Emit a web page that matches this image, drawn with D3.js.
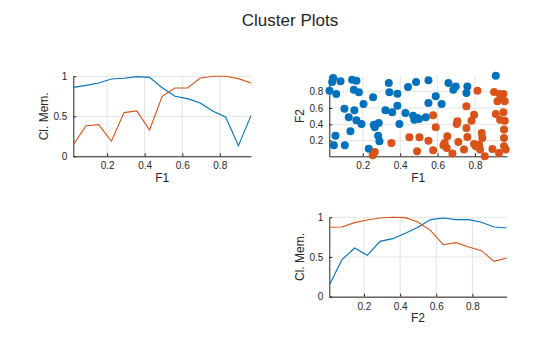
<!DOCTYPE html>
<html>
<head>
<meta charset="utf-8">
<script src="https://cdn.jsdelivr.net/npm/d3@7"></script>
<style>
  html, body { margin: 0; padding: 0; background: #fff; }
  svg { display: block; font-family: "Liberation Sans", Arial, Helvetica, sans-serif; }
</style>
</head>
<body>
<svg id="chart" width="560" height="337"></svg>
<script>
// Cluster membership along F1 (15 evenly spaced bins)
const f1Grid = [0.020, 0.088, 0.155, 0.223, 0.290, 0.358, 0.426, 0.493, 0.561, 0.628, 0.696, 0.764, 0.831, 0.899, 0.966];
const memF1Blue   = [0.862, 0.887, 0.917, 0.967, 0.975, 0.996, 0.987, 0.857, 0.750, 0.721, 0.667, 0.563, 0.492, 0.133, 0.508];
const memF1Orange = [0.146, 0.383, 0.396, 0.188, 0.546, 0.567, 0.329, 0.750, 0.854, 0.854, 0.979, 1.000, 1.000, 0.971, 0.917];

// Cluster membership along F2
const f2Grid = [0.008, 0.078, 0.148, 0.218, 0.289, 0.359, 0.429, 0.499, 0.569, 0.639, 0.709, 0.780, 0.850, 0.920, 0.990];
const memF2Blue   = [0.143, 0.466, 0.613, 0.521, 0.697, 0.731, 0.800, 0.874, 0.971, 0.992, 0.971, 0.971, 0.937, 0.878, 0.866];
const memF2Orange = [0.874, 0.878, 0.933, 0.966, 0.992, 1.000, 0.996, 0.941, 0.832, 0.655, 0.681, 0.626, 0.580, 0.445, 0.487];

// Observations of cluster 1
const blueF1 = [0.042, 0.036, 0.081, 0.143, 0.166, 0.022, 0.058, 0.152, 0.179, 0.102, 0.155, 0.204, 0.255,
  0.125, 0.166, 0.193, 0.134, 0.054, 0.045, 0.104, 0.259, 0.264, 0.285, 0.282, 0.289, 0.232, 0.339, 0.342,
  0.385, 0.321, 0.357, 0.385, 0.396, 0.442, 0.485, 0.551, 0.428, 0.469, 0.476, 0.492, 0.501, 0.537, 0.590,
  0.551, 0.622, 0.658, 0.697, 0.684, 0.759, 0.754, 0.911];
const blueF2 = [0.967, 0.918, 0.927, 0.947, 0.935, 0.812, 0.771, 0.824, 0.792, 0.592, 0.571, 0.649, 0.731,
  0.486, 0.449, 0.404, 0.314, 0.261, 0.143, 0.143, 0.396, 0.363, 0.416, 0.261, 0.192, 0.102, 0.906, 0.792,
  0.776, 0.571, 0.547, 0.629, 0.404, 0.857, 0.918, 0.939, 0.539, 0.506, 0.457, 0.478, 0.465, 0.486, 0.743,
  0.661, 0.649, 0.906, 0.865, 0.824, 0.865, 0.784, 0.996];

// Observations of cluster 2
const orangeF1 = [0.253, 0.264, 0.353, 0.449, 0.503, 0.551, 0.490, 0.576, 0.576, 0.590, 0.652, 0.638, 0.631,
  0.649, 0.679, 0.711, 0.741, 0.702, 0.706, 0.754, 0.781, 0.795, 0.754, 0.813, 0.759, 0.795, 0.804, 0.822,
  0.827, 0.836, 0.839, 0.852, 0.893, 0.928, 0.902, 0.932, 0.952, 0.920, 0.959, 0.941, 0.911, 0.952, 0.934,
  0.959, 0.955, 0.955, 0.955, 0.964];
const orangeF2 = [0.020, 0.061, 0.171, 0.241, 0.241, 0.200, 0.069, 0.082, 0.510, 0.363, 0.253, 0.171, 0.143,
  0.110, 0.041, 0.184, 0.090, 0.404, 0.437, 0.355, 0.445, 0.518, 0.620, 0.812, 0.245, 0.159, 0.131, 0.151,
  0.090, 0.294, 0.233, 0.008, 0.098, 0.049, 0.796, 0.771, 0.771, 0.682, 0.682, 0.722, 0.527, 0.547, 0.457,
  0.445, 0.335, 0.233, 0.131, 0.090];

const memTicks = [0, 0.5, 1];
const fTicks = [0.2, 0.4, 0.6, 0.8];

const BLUE = "#0072BD", ORANGE = "#D95319";
const AXIS = "#262626", GRID = "#e3e3e3";

const svg = d3.select("#chart");

svg.append("text")
  .attr("x", 290).attr("y", 26)
  .attr("text-anchor", "middle")
  .attr("font-size", 17).attr("fill", "#262626")
  .text("Cluster Plots");

// One axes panel: grid, left/bottom spines, inward ticks, labels
function panel(box, xDomain, yDomain, xTicks, yTicks, xLabel, yLabel) {
  const x = d3.scaleLinear().domain(xDomain).range([box.x0, box.x1]);
  const y = d3.scaleLinear().domain(yDomain).range([box.y1, box.y0]);
  const g = svg.append("g");

  const grid = g.append("g").attr("stroke", GRID).attr("stroke-width", 1);
  xTicks.forEach(t => grid.append("line")
    .attr("x1", x(t)).attr("x2", x(t)).attr("y1", box.y0).attr("y2", box.y1));
  yTicks.forEach(t => grid.append("line")
    .attr("y1", y(t)).attr("y2", y(t)).attr("x1", box.x0).attr("x2", box.x1));

  const xa = g.append("g").attr("transform", `translate(0,${box.y1})`)
    .call(d3.axisBottom(x).tickValues(xTicks).tickFormat(d3.format("~g"))
      .tickSizeInner(-3).tickSizeOuter(0).tickPadding(6));
  const ya = g.append("g").attr("transform", `translate(${box.x0},0)`)
    .call(d3.axisLeft(y).tickValues(yTicks).tickFormat(d3.format("~g"))
      .tickSizeInner(-3).tickSizeOuter(0).tickPadding(6));
  [xa, ya].forEach(a => {
    a.select(".domain").attr("stroke", AXIS).attr("stroke-width", 1);
    a.selectAll(".tick line").attr("stroke", AXIS);
    a.selectAll(".tick text").attr("fill", AXIS).attr("font-size", 10)
      .attr("font-family", "'Liberation Sans', Arial, sans-serif");
  });

  g.append("text")
    .attr("x", (box.x0 + box.x1) / 2).attr("y", box.y1 + 25.5)
    .attr("text-anchor", "middle").attr("font-size", 12).attr("fill", AXIS)
    .text(xLabel);
  g.append("text")
    .attr("transform", `translate(${box.x0 - 25},${(box.y0 + box.y1) / 2}) rotate(-90)`)
    .attr("text-anchor", "middle").attr("font-size", 12).attr("fill", AXIS)
    .text(yLabel);
  return { g, x, y };
}

function memLines(p, grid, series) {
  series.forEach(([vals, color]) => {
    p.g.append("path")
      .datum(grid.map((v, i) => [v, vals[i]]))
      .attr("fill", "none").attr("stroke", color).attr("stroke-width", 1.1)
      .attr("d", d3.line().x(d => p.x(d[0])).y(d => p.y(d[1])));
  });
}

// Top-left: membership vs F1
const p1 = panel({ x0: 73.3, x1: 251, y0: 76.3, y1: 156.3 },
  [f1Grid[0], f1Grid[f1Grid.length - 1]], [0, 1], fTicks, memTicks, "F1", "Cl. Mem.");
memLines(p1, f1Grid, [[memF1Blue, BLUE], [memF1Orange, ORANGE]]);

// Top-right: scatter F1 vs F2
const p2 = panel({ x0: 329.3, x1: 507, y0: 75.7, y1: 156.3 },
  [0.021, 0.971], [0.008, 0.996], fTicks, fTicks, "F1", "F2");
p2.g.append("g").selectAll("circle")
  .data(blueF1.map((v, i) => [v, blueF2[i]]))
  .join("circle")
  .attr("cx", d => p2.x(d[0])).attr("cy", d => p2.y(d[1])).attr("r", 4)
  .attr("fill", BLUE);
p2.g.append("g").selectAll("circle")
  .data(orangeF1.map((v, i) => [v, orangeF2[i]]))
  .join("circle")
  .attr("cx", d => p2.x(d[0])).attr("cy", d => p2.y(d[1])).attr("r", 4)
  .attr("fill", ORANGE);

// Bottom-right: membership vs F2
const p3 = panel({ x0: 329.3, x1: 506.7, y0: 217.3, y1: 296.7 },
  [f2Grid[0], f2Grid[f2Grid.length - 1]], [0, 1], fTicks, memTicks, "F2", "Cl. Mem.");
memLines(p3, f2Grid, [[memF2Blue, BLUE], [memF2Orange, ORANGE]]);
</script>
</body>
</html>
